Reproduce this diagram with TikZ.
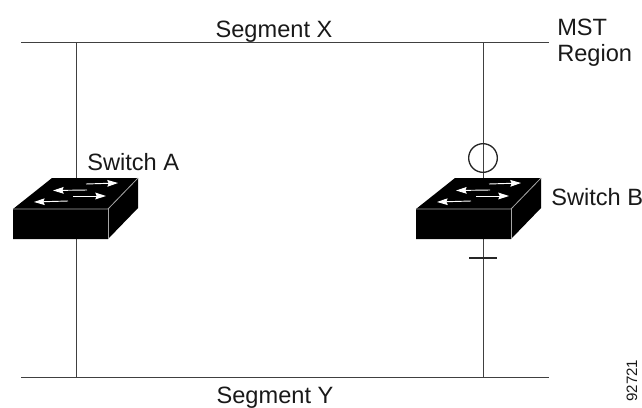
\documentclass[tikz,border=0pt]{standalone}
\usepackage{fontspec}
\setmainfont{Liberation Sans}
\usetikzlibrary{arrows.meta}
\definecolor{wire}{gray}{0.25}
\tikzset{
  x=0.75pt,y=-0.75pt,
  wireline/.style={draw=wire,line width=0.6pt},
  label/.style={inner sep=0pt,font=\fontsize{17.7pt}{21pt}\selectfont,text=black!90},
  whitearrow/.style={draw=white,line width=0.7pt,-{Stealth[length=8pt,width=5pt,inset=1pt]}},
  edgeline/.style={draw=black!35,line width=0.6pt},
  switchbody/.pic={
    \fill[black] (0,0) -- (39,-31) -- (125,-31) -- (95,0) -- (95,30) -- (0,30) -- cycle;
    \fill[black] (95,0) -- (125,-31) -- (125,-1) -- (95,30) -- cycle;
    \draw[edgeline] (0,0) -- (95,0) -- (125,-31);
    \draw[edgeline] (95,0) -- (95,30);
    \draw[whitearrow] (73,-25) -- (105,-26);
    \draw[whitearrow] (74,-19) -- (40,-18.5);
    \draw[whitearrow] (60,-13) -- (93,-13);
    \draw[whitearrow] (55,-8) -- (21,-7);
  }
}
\begin{document}
\begin{tikzpicture}
\useasboundingbox (0,0) rectangle (642,407);
\coordinate (xl) at (21,42.5);
\coordinate (xr) at (549,42.5);
\coordinate (yl) at (21,377);
\coordinate (yr) at (549,377);
\coordinate (ax) at (76.5,42.5);
\coordinate (ay) at (76.5,377);
\coordinate (bx) at (483,42.5);
\coordinate (by) at (483,377);
\coordinate (barl) at (469,258);
\coordinate (barr) at (497,258);
\draw[wireline] (xl) -- (xr);
\draw[wireline] (yl) -- (yr);
\draw[wireline] (ax) -- (ay);
\draw[wireline] (bx) -- (by);
\draw[draw=black!85,line width=1pt] (barl) -- (barr);
\node[circle,draw=black!85,line width=1pt,minimum size=21.5pt,inner sep=0pt] (port) at (483,158) {};
\pic at (13,209) {switchbody};
\pic at (416,209) {switchbody};
\node[label,anchor=base] (sx) at (274,37) {Segment X};
\node[label,anchor=base] (sy) at (275,403) {Segment Y};
\node[label,anchor=base west] (mst) at (557,36) {MST};
\node[label,anchor=base west] (reg) at (557,61.5) {Region};
\node[label,anchor=base west] (sa) at (87,170) {Switch A};
\node[label,anchor=base west] (sb) at (551,205) {Switch B};
\node[inner sep=0pt,font=\fontsize{11.3pt}{13pt}\selectfont,rotate=90,anchor=base west,text=black!90] (code) at (637,402) {92721};
\end{tikzpicture}
\end{document}
